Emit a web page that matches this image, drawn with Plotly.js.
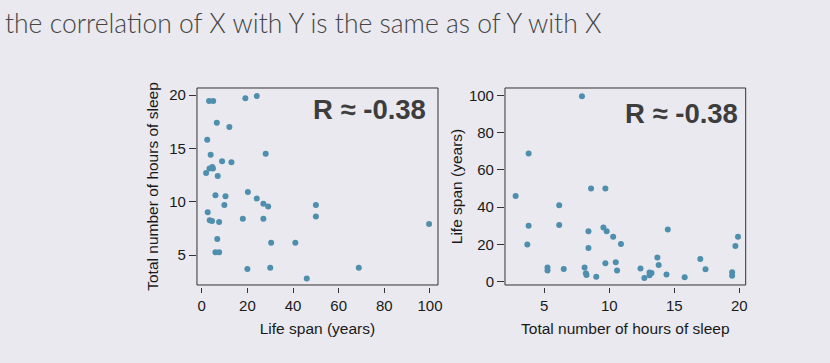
<!DOCTYPE html>
<html>
<head>
<meta charset="utf-8">
<script src="https://cdn.plot.ly/plotly-3.0.1.min.js"></script>
<style>html,body{margin:0;padding:0;background:#e9e9ef;}#chart{width:830px;height:363px;}</style>
</head>
<body>
<div id="chart"></div>
<script>
// Data: each animal's life span (years) and total hours of sleep per day
const lifeSpan = [3.2, 5.0, 19.1, 24.1, 6.6, 12.1, 2.4, 3.9, 8.9, 13.0, 28.0, 3.4, 4.9, 4.6, 1.9, 7.0,
  6.0, 10.4, 20.2, 9.9, 24.1, 27.0, 29.1, 50.0, 2.6, 50.0, 3.5, 4.5, 7.6, 18.0, 27.0, 99.6,
  6.8, 30.4, 41.0, 6.0, 7.6, 20.0, 30.0, 68.8, 46.0];
const sleepHours = [19.45, 19.45, 19.7, 19.9, 17.4, 17.0, 15.8, 14.4, 13.8, 13.7, 14.5, 13.1, 13.1, 13.25, 12.7, 12.4,
  10.6, 10.5, 10.9, 9.7, 10.3, 9.8, 9.55, 9.7, 9.0, 8.6, 8.25, 8.2, 8.1, 8.4, 8.4, 7.9,
  6.5, 6.15, 6.15, 5.25, 5.25, 3.7, 3.8, 3.8, 2.8];
const rLabel = "R \u2248 -0.38";
const pageTitle = "the correlation of X with Y is the same as of Y with X";
const leftXTicks = [0, 20, 40, 60, 80, 100];
const leftYTicks = [5, 10, 15, 20];
const rightXTicks = [5, 10, 15, 20];
const rightYTicks = [0, 20, 40, 60, 80, 100];

const dotColor = "#4f8fae";
const tickFont = {family: "Liberation Sans, Arial, sans-serif", size: 15, color: "#1a1a1a"};
const titleFont = {family: "Liberation Sans, Arial, sans-serif", size: 15.5, color: "#1a1a1a"};
const yDom = [0.2149, 0.7576];

const traces = [
  {type: "scatter", mode: "markers", x: lifeSpan, y: sleepHours, xaxis: "x", yaxis: "y",
   marker: {color: dotColor, size: 6}, hoverinfo: "x+y"},
  {type: "scatter", mode: "markers", x: sleepHours, y: lifeSpan, xaxis: "x2", yaxis: "y2",
   marker: {color: dotColor, size: 6}, hoverinfo: "x+y"}
];

function xAxis(dom, range, ticks, title) {
  return {domain: dom, range: range, tickvals: ticks, ticktext: ticks.map(String),
    anchor: "free", position: 0.2107, showgrid: false, zeroline: false, showline: false,
    ticks: "outside", ticklen: 5, tickcolor: "#333", tickwidth: 1, tickfont: tickFont,
    title: {text: title, font: titleFont, standoff: 10}, fixedrange: true};
}
function yAxis(range, ticks, title, anchor, standoff) {
  return {domain: yDom, range: range, tickvals: ticks, ticktext: ticks.map(String),
    anchor: anchor, showgrid: false, zeroline: false, showline: false,
    ticks: "outside", ticklen: 7, tickcolor: "#333", tickwidth: 1, tickfont: tickFont,
    title: {text: title, font: titleFont, standoff: standoff}, fixedrange: true};
}

const layout = {
  width: 830, height: 363,
  margin: {l: 0, r: 0, t: 0, b: 0},
  paper_bgcolor: "#e9e9ef", plot_bgcolor: "rgba(0,0,0,0)",
  showlegend: false,
  title: {text: pageTitle, x: 0.006, xanchor: "left", xref: "paper", y: 0.934, yanchor: "middle", yref: "paper",
    font: {family: "Lato, Open Sans, sans-serif", size: 26.5, weight: 300, color: "#454545"}},
  xaxis: xAxis([0.2373, 0.5277], [-2.1, 103.5], leftXTicks, "Life span (years)"),
  yaxis: yAxis([2.19, 20.66], leftYTicks, "Total number of hours of sleep", "x", 6),
  xaxis2: xAxis([0.6084, 0.8984], [1.98, 20.49], rightXTicks, "Total number of hours of sleep"),
  yaxis2: yAxis([-1.8, 104], rightYTicks, "Life span (years)", "x2", 2),
  shapes: [
    {type: "rect", xref: "x domain", yref: "y domain", x0: 0, x1: 1, y0: 0, y1: 1, line: {color: "#333", width: 1}},
    {type: "rect", xref: "x2 domain", yref: "y2 domain", x0: 0, x1: 1, y0: 0, y1: 1, line: {color: "#333", width: 1}}
  ],
  annotations: [
    {text: rLabel, xref: "paper", yref: "paper", x: 0.5157, y: 0.6997, xanchor: "right", yanchor: "middle",
     showarrow: false, font: {family: "Liberation Sans, Arial, sans-serif", size: 27.5, weight: 700, color: "#3d3d3d"}},
    {text: rLabel, xref: "paper", yref: "paper", x: 0.891, y: 0.6887, xanchor: "right", yanchor: "middle",
     showarrow: false, font: {family: "Liberation Sans, Arial, sans-serif", size: 27.5, weight: 700, color: "#3d3d3d"}}
  ]
};

Plotly.newPlot("chart", traces, layout, {staticPlot: true, displayModeBar: false});
</script>
</body>
</html>
